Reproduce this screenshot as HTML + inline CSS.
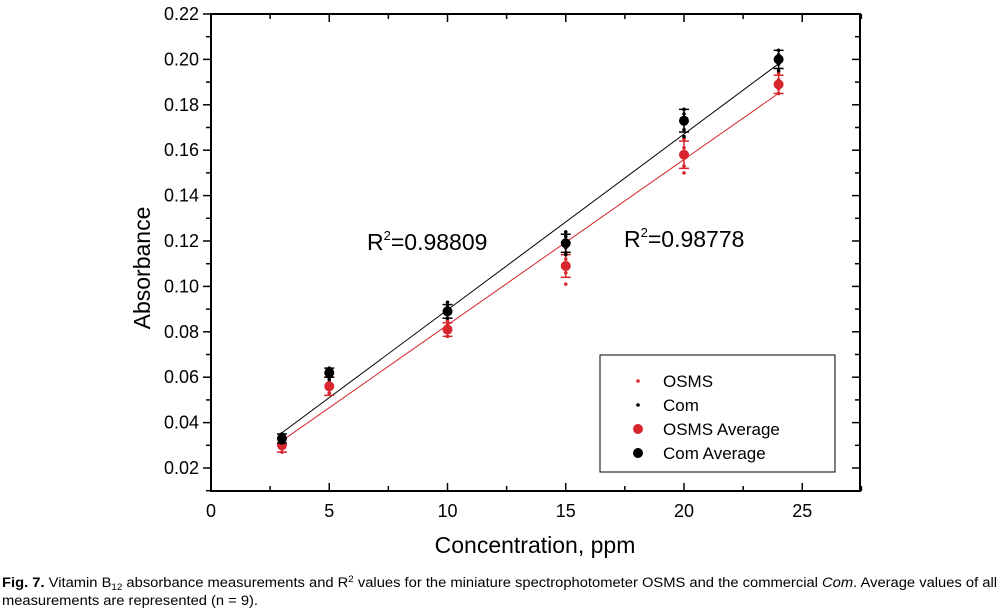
<!DOCTYPE html>
<html><head><meta charset="utf-8"><style>
html,body{margin:0;padding:0;background:#fff;}
svg{display:block;font-family:"Liberation Sans",sans-serif;}
</style></head><body>
<svg id="chart" width="1000" height="610">
<g id="axes"></g><g id="marks"></g>
<g>
<rect x="600" y="355" width="235" height="117" fill="#fff" stroke="#000" stroke-width="1"/>
<g><circle cx="638" cy="381" r="1.8" fill="#d7262e"/><text x="663" y="387" font-size="17">OSMS</text></g>
<g><circle cx="638" cy="405" r="1.8" fill="#000"/><text x="663" y="411" font-size="17">Com</text></g>
<g><circle cx="638" cy="429" r="5" fill="#d7262e"/><text x="663" y="435" font-size="17">OSMS Average</text></g>
<g><circle cx="638" cy="453" r="5" fill="#000"/><text x="663" y="459" font-size="17">Com Average</text></g>
</g>
<text x="367" y="250" font-size="23">R<tspan dy="-10" font-size="13">2</tspan><tspan dy="10">=0.98809</tspan></text>
<text x="624" y="247" font-size="23">R<tspan dy="-10" font-size="13">2</tspan><tspan dy="10">=0.98778</tspan></text>
<text x="535" y="553" font-size="23" text-anchor="middle">Concentration, ppm</text>
<text transform="translate(150,268) rotate(-90)" font-size="23" text-anchor="middle">Absorbance</text>
<text x="2" y="587" font-size="13.5" textLength="995" lengthAdjust="spacingAndGlyphs"><tspan font-weight="bold">Fig. 7.</tspan> Vitamin B<tspan font-size="9" dy="3">12</tspan><tspan dy="-3"> absorbance measurements and R</tspan><tspan font-size="9" dy="-5">2</tspan><tspan dy="5"> values for the miniature spectrophotometer OSMS and the commercial </tspan><tspan font-style="italic">Com</tspan>. Average values of all</text>
<text x="2" y="605" font-size="13.5" textLength="256" lengthAdjust="spacingAndGlyphs">measurements are represented (n = 9).</text>
</svg>
<script>
const concentrations=[3,5,10,15,20,24];
const osmsAvg=[0.030,0.056,0.081,0.109,0.158,0.189];
const comAvg=[0.033,0.062,0.089,0.119,0.173,0.200];
const osmsErr=[0.003,0.004,0.003,0.005,0.006,0.004];
const comErr=[0.002,0.002,0.003,0.004,0.005,0.004];
const osmsRaw=[[0.027,0.029,0.031,0.033],[0.053,0.055,0.058,0.060],[0.078,0.080,0.083,0.085],[0.101,0.106,0.112,0.115],[0.150,0.153,0.161,0.165],[0.185,0.187,0.191,0.194]];
const comRaw=[[0.031,0.033,0.034,0.035],[0.059,0.061,0.063,0.064],[0.086,0.088,0.091,0.093],[0.114,0.117,0.122,0.124],[0.166,0.169,0.176,0.178],[0.195,0.198,0.202,0.204]];
const fitCom=[0.0123,0.00774];
const fitOsms=[0.0101,0.00729];
const xTicks=[0,5,10,15,20,25];
const yTicks=[0.02,0.04,0.06,0.08,0.10,0.12,0.14,0.16,0.18,0.20,0.22];

const L=211,R=860,T=14,B=491;
const X0=0,X1=(R-L)/23.65,Y0=0.00987,Y1=0.22;
const sx=v=>L+(v-X0)/(X1-X0)*(R-L);
const sy=v=>B-(v-Y0)/(Y1-Y0)*(B-T);
const NS="http://www.w3.org/2000/svg";
function mk(tag,attrs,parent){const e=document.createElementNS(NS,tag);for(const k in attrs)e.setAttribute(k,attrs[k]);parent.appendChild(e);return e;}
const axes=document.getElementById('axes'),marks=document.getElementById('marks');
const frame=mk('rect',{x:L,y:T,width:R-L,height:B-T,fill:'none',stroke:'#000','stroke-width':2},axes);


for(let v=0;v<=27.5;v+=2.5){
  const major=Math.abs(v%5)<1e-9, len=major?8:5;
  mk('line',{x1:sx(v),x2:sx(v),y1:B,y2:B-len,stroke:'#000','stroke-width':1.5},axes);
  mk('line',{x1:sx(v),x2:sx(v),y1:T,y2:T+len,stroke:'#000','stroke-width':1.5},axes);
}
xTicks.forEach(v=>{const t=mk('text',{x:sx(v),y:B+26,'font-size':18,'text-anchor':'middle'},axes);t.textContent=v;

});
for(let v=0.01;v<=0.2201;v+=0.01){
  const major=Math.round(v*100)%2===0,len=major?8:5;
  mk('line',{x1:L,x2:L-len,y1:sy(v),y2:sy(v),stroke:'#000','stroke-width':1.5},axes);
  mk('line',{x1:R,x2:R-len,y1:sy(v),y2:sy(v),stroke:'#000','stroke-width':1.5},axes);
}
yTicks.forEach(v=>{const t=mk('text',{x:L-12,y:sy(v)+6,'font-size':18,'text-anchor':'end'},axes);t.textContent=v.toFixed(2);

});
function fit(f,color,name){const a=concentrations[0],b=concentrations[concentrations.length-1];
 const l=mk('line',{x1:sx(a),y1:sy(f[0]+f[1]*a),x2:sx(b),y2:sy(f[0]+f[1]*b),stroke:color,'stroke-width':1},marks);
 
 }
fit(fitOsms,'#d7262e','osms-fit-line');
fit(fitCom,'#000','com-fit-line');
function series(avg,err,raw,color,name){
 concentrations.forEach((c,i)=>{
  const x=sx(c);
  const g=mk('g',{},marks);
  
  
  mk('line',{x1:x,x2:x,y1:sy(avg[i]-err[i]),y2:sy(avg[i]+err[i]),stroke:color,'stroke-width':1.5},g);
  [avg[i]-err[i],avg[i]+err[i]].forEach(v=>mk('line',{x1:x-5,x2:x+5,y1:sy(v),y2:sy(v),stroke:color,'stroke-width':1.5},g));
  raw[i].forEach(v=>mk('circle',{cx:x,cy:sy(v),r:1.8,fill:color},g));
  mk('circle',{cx:x,cy:sy(avg[i]),r:5,fill:color},g);
 });
}
series(osmsAvg,osmsErr,osmsRaw,'#d7262e','osms');
series(comAvg,comErr,comRaw,'#000','com');
</script>
</body></html>
